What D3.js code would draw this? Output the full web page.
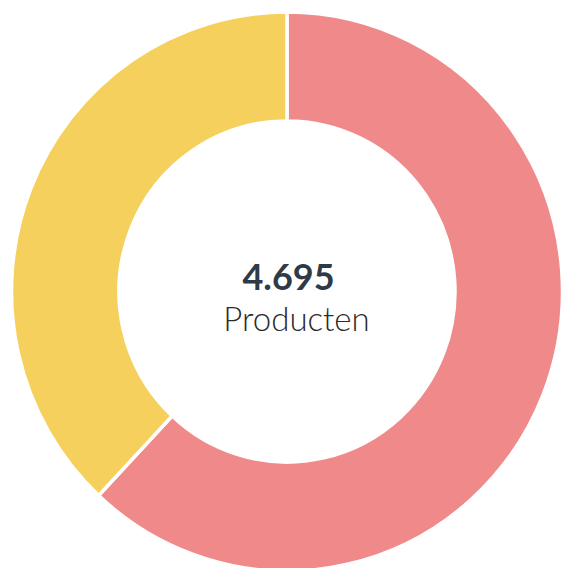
<!DOCTYPE html>
<html><head><meta charset="utf-8">
<script src="https://cdn.jsdelivr.net/npm/d3@7"></script>
<style>html,body{margin:0;padding:0;background:#fff;}svg{display:block;}</style>
</head><body>
<svg id="chart" width="565" height="568"></svg>
<script>
const categories = ["A", "B"];
const values = [2910, 1785];
const colors = ["#F08A8A", "#F6D05C"];
const totalLabel = "4.695";
const subLabel = "Producten";

const svg = d3.select("#chart");
const cx = 287, cy = 291.5, outerR = 275.5, innerR = 168;
const g = svg.append("g").attr("transform", `translate(${cx},${cy}) scale(1,1.015)`);
const pie = d3.pie().sort(null).value(d => d.v);
const arc = d3.arc().innerRadius(innerR).outerRadius(outerR);
const data = categories.map((c, i) => ({c, v: values[i], col: colors[i]}));
g.selectAll("path").data(pie(data)).join("path")
  .attr("d", arc).attr("fill", d => d.data.col)
  .attr("stroke", "#fff").attr("stroke-width", 3.5);
const t = svg.append("g").attr("transform", `translate(${cx},${cy})`);
t.append("text").attr("x", 1.5).attr("y", -1.5).attr("text-anchor", "middle")
  .attr("font-family", "Lato").attr("font-weight", "bold").attr("font-size", 36)
  .attr("fill", "#2E3B47").text(totalLabel);
t.append("text").attr("x", 9.5).attr("y", 39.5).attr("text-anchor", "middle")
  .attr("font-family", "Lato").attr("font-weight", 300).attr("font-size", 33)
  .attr("fill", "#2a2a2a").text(subLabel);
</script>
</body></html>
